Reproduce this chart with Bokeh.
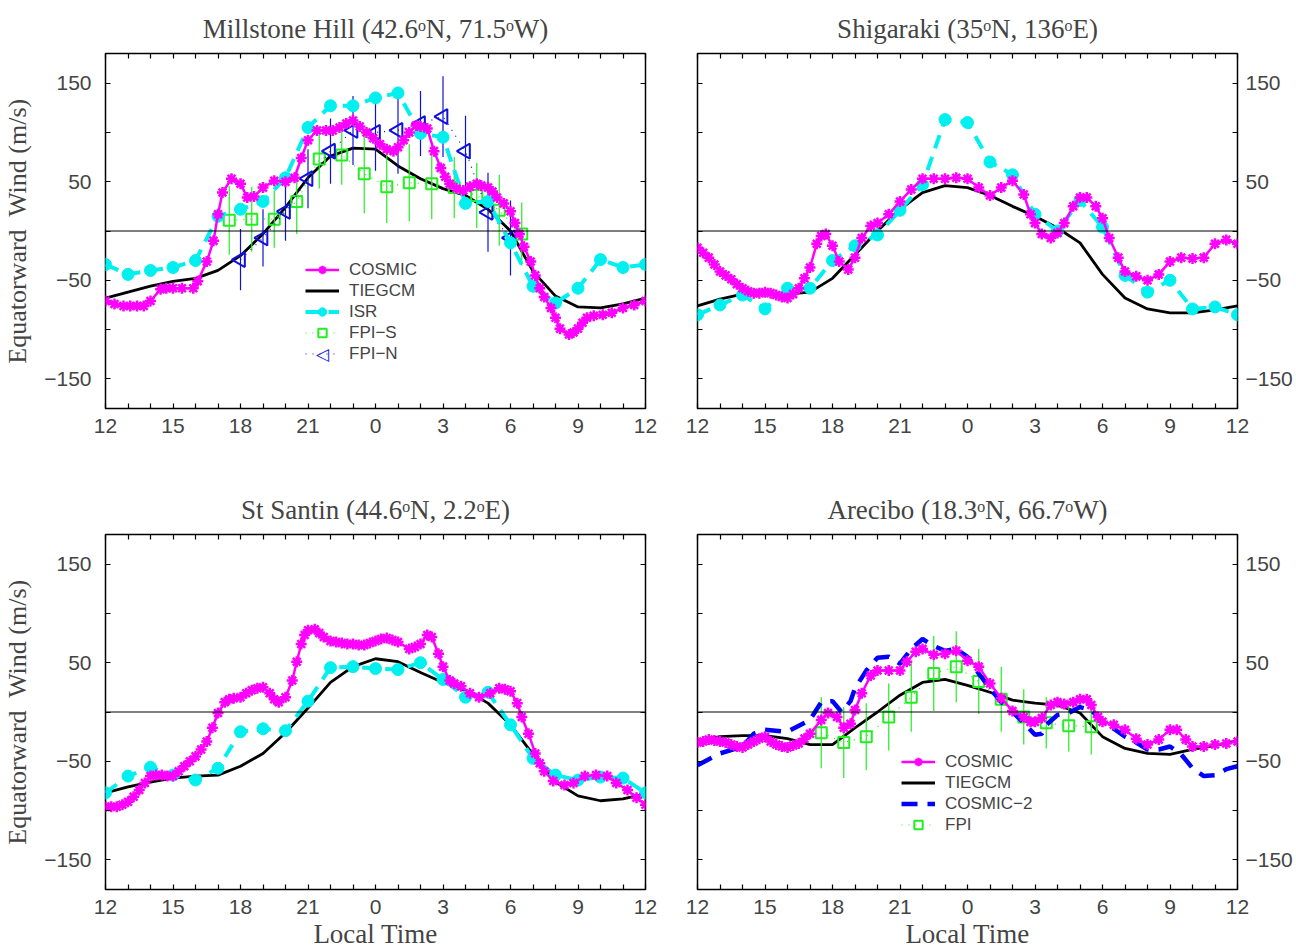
import math
from bokeh.plotting import figure
from bokeh.models import (Range1d, LinearAxis, FixedTicker, Span, Legend, LegendItem, Label)
from bokeh.layouts import column, row
from bokeh.embed import file_html
from bokeh.resources import INLINE

# ---------------- data ----------------
hours = list(range(12, 37))
x_tick_labels = {12: "12", 15: "15", 18: "18", 21: "21", 24: "0", 27: "3", 30: "6", 33: "9", 36: "12"}
y_tick_labels = {-150: "\u2212150", -100: "", -50: "\u221250", 0: "", 50: "50", 100: "", 150: "150"}

# Millstone Hill
mh_tiegcm = [-68, -62, -56, -51, -48, -40, -25, -3, 24, 54, 76, 84, 83, 66, 53, 43, 36, 22, 0, -41, -66, -77, -78, -74, -68]
mh_isr = [-34, -44, -40, -37, -30, 15, 22, 30, 54, 105, 127, 127, 135, 140, 99, 95, 28, 30, -12, -56, -73, -58, -29, -37, -34]
mh_cosmic_t = [12, 12.4, 12.8, 13.1, 13.4, 13.7, 14, 14.45, 14.7, 15.0, 15.4, 15.9, 16.1, 16.5, 16.8, 17.0, 17.2, 17.6,
               18.0, 18.3, 18.6, 19.0, 19.5, 20.0, 20.4, 20.7, 21.0, 21.4, 21.8, 22.1, 22.4, 22.7, 23.0, 23.3, 23.6,
               23.9, 24.2, 24.5, 24.8, 25.0, 25.25, 25.5, 25.8, 26.0, 26.3, 26.6, 26.9, 27.1, 27.3, 27.6, 27.9, 28.2,
               28.5, 28.7, 29.0, 29.2, 29.4, 29.7, 30.0, 30.2, 30.4, 30.6, 30.9, 31.1, 31.3, 31.5, 31.8, 32.0, 32.2,
               32.6, 32.8, 33.0, 33.2, 33.4, 33.7, 34.1, 34.5, 35.0, 35.5, 36]
mh_cosmic = [-71, -74, -76, -76, -76, -76, -71, -59, -58, -58, -58, -58, -51, -31, -10, 17, 39, 53,
             48, 34, 35, 44, 51, 50, 54, 74, 92, 102, 102, 102, 105, 109, 112, 106, 100,
             94, 88, 83, 81, 85, 92, 100, 107, 106, 104, 81, 64, 55, 48, 43, 41, 45,
             48, 46, 44, 40, 34, 28, 20, 8, -3, -16, -31, -45, -58, -67, -78, -88, -99,
             -105, -103, -99, -93, -88, -86, -85, -83, -78, -75, -71]
mh_fpis_t = [17.5, 18.5, 19.5, 20.5, 21.5, 22.5, 23.5, 24.5, 25.5, 26.5, 27.5, 28.5, 29.5, 30.5]
mh_fpis = [11, 12, 12, 30, 73, 77, 58, 45, 49, 48, 44, 36, 21, -3]
mh_fpis_err = [35, 33, 29, 33, 30, 30, 40, 37, 39, 36, 31, 33, 36, 32]
mh_fpin_t = [18, 19, 20, 21, 22, 23, 24, 25, 26, 27, 28, 29, 30]
mh_fpin = [-29, -7, 20, 53, 81, 102, 100, 102, 109, 116, 81, 19, -7]
mh_fpin_err = [31, 29, 30, 30, 33, 35, 39, 44, 33, 41, 36, 40, 38]

# Shigaraki
sg_isr = [-85, -75, -65, -79, -58, -58, -30, -15, -4, 21, 47, 113, 110, 70, 57, 17, 0, 31, 4, -45, -62, -50, -79, -77, -85]
sg_tiegcm = [-76, -69, -64, -63, -64, -62, -48, -24, 0, 22, 39, 46, 44, 36, 25, 15, 3, -12, -44, -68, -79, -83, -83, -80, -76]
sg_cosmic_t = [12, 12.25, 12.5, 12.75, 13, 13.25, 13.5, 13.75, 14, 14.25, 14.5, 14.75, 15, 15.25, 15.5, 15.75, 16,
               16.25, 16.5, 16.75, 17, 17.3, 17.5, 17.7, 18, 18.3, 18.7, 19, 19.3, 19.7, 20, 20.5, 21, 21.5, 22,
               22.5, 23, 23.5, 24, 24.5, 25, 25.5, 26, 26.5, 26.8, 27, 27.3, 27.7, 28, 28.3, 28.7, 29, 29.3,
               29.7, 30, 30.3, 30.7, 31, 31.5, 32, 32.5, 33, 33.5, 34, 34.5, 35, 35.5, 36]
sg_cosmic = [-17, -22, -27, -34, -41, -45, -49, -54, -58, -61, -63, -63, -62, -63, -65, -67, -68,
             -64, -58, -48, -37, -13, -5, -3, -15, -31, -39, -27, -7, 5, 8, 17, 30, 42, 53,
             53, 53, 54, 53, 44, 36, 44, 51, 37, 17, 8, -3, -7, -2, 8, 25, 34, 34,
             25, 13, -7, -27, -41, -46, -50, -44, -31, -27, -28, -27, -13, -9, -13]

# St Santin
ss_isr = [-82, -65, -56, -64, -69, -57, -20, -17, -19, 11, 45, 46, 44, 43, 50, 33, 15, 20, -13, -47, -64, -69, -66, -67, -82]
ss_tiegcm = [-82, -76, -71, -67, -65, -64, -55, -42, -21, 4, 30, 46, 54, 51, 40, 30, 22, 9, -13, -43, -71, -85, -90, -88, -83]
ss_cosmic_t = [12, 12.25, 12.5, 12.75, 13, 13.25, 13.5, 13.75, 14, 14.25, 14.5, 14.75, 15, 15.25, 15.5, 15.75, 16,
               16.25, 16.5, 16.75, 17, 17.3, 17.5, 17.7, 18, 18.25, 18.5, 18.75, 19, 19.3, 19.5, 19.7, 20, 20.3,
               20.5, 20.7, 20.85, 21, 21.3, 21.5, 21.7, 22, 22.25, 22.5, 22.75, 23, 23.25, 23.5, 23.75, 24,
               24.25, 24.5, 24.75, 25, 25.5, 25.75, 26, 26.3, 26.5, 26.8, 27, 27.3, 27.5, 27.8, 28.2, 28.6,
               29.1, 29.5, 29.75, 30, 30.3, 30.5, 30.8, 31.1, 31.3, 31.5, 31.9, 32.4, 32.8, 33.3, 33.8, 34.3,
               34.7, 35.2, 35.6, 36]
ss_cosmic = [-96, -96, -96, -94, -91, -86, -79, -72, -65, -64, -64, -65, -65, -60, -55, -50, -45,
             -38, -30, -16, -1, 10, 13, 14, 15, 19, 22, 24, 25, 19, 13, 10, 15, 32,
             51, 69, 78, 83, 84, 80, 76, 72, 71, 70, 69, 69, 68, 68, 70, 72,
             74, 75, 73, 71, 64, 66, 69, 78, 76, 59, 46, 32, 29, 26, 19, 15,
             19, 24, 23, 21, 9, -5, -22, -42, -52, -60, -70, -74, -72, -65, -64, -65,
             -72, -79, -87, -94]

# Arecibo
ar_tiegcm = [-29, -25, -24, -24, -27, -33, -33, -16, 0, 17, 30, 33, 27, 20, 12, 9, 7, -1, -25, -37, -42, -43, -38, -34, -29]
ar_cosmic2_t = [12, 13, 14, 14.5, 15, 16, 17, 17.5, 18, 18.4, 18.8, 19, 19.5, 20, 20.5, 21, 21.5, 22, 22.5, 23, 23.5,
                24, 24.5, 25, 25.5, 26, 26.5, 27, 27.3, 27.5, 28, 28.5, 29, 29.5, 30, 30.5, 31, 31.5, 32, 32.5,
                33, 33.5, 34, 34.5, 35, 35.5, 36]
ar_cosmic2 = [-54, -42, -35, -22, -18, -20, -8, 10, 11, 0, 11, 24, 42, 55, 56, 49, 64, 74, 67, 62, 64,
              56, 39, 24, 10, 0, -11, -23, -22, -13, -3, -1, 5, 2, -10, -17, -25, -31, -38, -38,
              -35, -43, -57, -65, -64, -58, -55]
ar_cosmic_t = [12, 12.25, 12.5, 12.75, 13, 13.25, 13.5, 13.75, 14, 14.25, 14.5, 14.75, 15, 15.25, 15.5, 15.75, 16,
               16.25, 16.5, 16.75, 17, 17.5, 17.8, 18.2, 18.5, 18.8, 19, 19.3, 19.7, 20, 20.5, 21, 21.3, 21.7,
               22, 22.5, 23, 23.5, 24, 24.5, 25, 25.5, 26, 26.5, 26.8, 27, 27.3, 27.7, 28, 28.3, 28.7, 29,
               29.3, 29.5, 29.8, 30, 30.5, 31, 31.5, 32, 32.5, 33, 33.3, 33.7, 34, 34.5, 35, 35.5, 36]
ar_cosmic = [-31, -30, -28, -29, -30, -31, -33, -35, -36, -33, -30, -27, -25, -30, -33, -35, -36,
             -34, -32, -27, -22, -8, -1, -5, -16, -12, 2, 19, 37, 42, 42, 42, 51, 61,
             64, 58, 59, 62, 52, 46, 29, 14, 1, -5, -10, -10, -6, 7, 10, 8, 10, 13,
             13, 7, -5, -10, -13, -18, -27, -33, -28, -18, -18, -28, -35, -35, -33, -32, -30]
ar_fpi_t = [17.5, 18.5, 19.5, 20.5, 21.5, 22.5, 23.5, 24.5, 25.5, 26.5, 27.5, 28.5, 29.5]
ar_fpi = [-21, -31, -25, -5, 15, 39, 46, 31, 13, -5, -11, -14, -15]
ar_fpi_err = [36, 36, 34, 34, 35, 38, 36, 33, 33, 28, 26, 26, 28]

titles = ["Millstone Hill (42.6\u1d52N, 71.5\u1d52W)", "Shigaraki (35\u1d52N, 136\u1d52E)",
          "St Santin (44.6\u1d52N, 2.2\u1d52E)", "Arecibo (18.3\u1d52N, 66.7\u1d52W)"]

# ---------------- styles ----------------
MAG = "#FF00FF"
CYAN = "#00F0F0"
GREEN = "#22EE22"
BLUE = "#0000FF"
FPIN_BLUE = "#1010DD"
SERIF = "Liberation Serif"
SANS = "Liberation Sans"


def make_fig(title, left_side, top_row):
    p = figure(frame_width=540, frame_height=355, x_range=Range1d(12, 36), y_range=Range1d(-180, 180),
               x_axis_type=None, y_axis_type=None, output_backend="svg", toolbar_location=None,
               min_border_left=97 if left_side else 26, min_border_right=26 if left_side else 50,
               min_border_top=53 if top_row else 76, min_border_bottom=50 if top_row else 52)
    p.title.text = title
    p.title.align = "center"
    p.title.text_font = SERIF
    p.title.text_font_size = "27px"
    p.title.text_font_style = "normal"
    p.title.standoff = 20
    p.outline_line_color = "black"
    p.outline_line_width = 1.5
    p.outline_line_alpha = 1.0
    p.background_fill_color = "white"

    xt = FixedTicker(ticks=hours)
    yt = FixedTicker(ticks=[-150, -100, -50, 0, 50, 100, 150])
    xlab = {h: x_tick_labels.get(h, "") for h in hours}

    def style(ax, labels, show):
        ax.major_label_overrides = labels
        ax.major_tick_in = 5
        ax.major_tick_out = 0
        ax.major_tick_line_width = 1.2
        ax.minor_tick_line_color = None
        ax.axis_line_color = None
        ax.major_label_text_font = SANS
        ax.major_label_text_font_size = "21px" if show else "0px"
        ax.major_label_standoff = 10 if show else 0

    xb = LinearAxis(ticker=xt)
    style(xb, xlab, True)
    if not top_row:
        xb.axis_label = "Local Time"
        xb.axis_label_text_font = SERIF
        xb.axis_label_text_font_size = "27px"
        xb.axis_label_text_font_style = "normal"
        xb.axis_label_standoff = 2
    p.add_layout(xb, "below")
    xa = LinearAxis(ticker=xt)
    style(xa, {h: "" for h in hours}, False)
    p.add_layout(xa, "above")

    yl = LinearAxis(ticker=yt)
    yr = LinearAxis(ticker=yt)
    if left_side:
        style(yl, y_tick_labels, True)
        yl.major_label_standoff = 14
        yl.axis_label = "Equatorward\u00a0 Wind (m/s)"
        yl.axis_label_text_font = SERIF
        yl.axis_label_text_font_size = "26px"
        yl.axis_label_text_font_style = "normal"
        yl.axis_label_standoff = 9
        style(yr, {k: "" for k in y_tick_labels}, False)
    else:
        style(yl, {k: "" for k in y_tick_labels}, False)
        style(yr, y_tick_labels, True)
        yr.major_label_standoff = 8
    p.add_layout(yl, "left")
    p.add_layout(yr, "right")

    p.add_layout(Span(location=0, dimension="width", line_color="black", line_width=1))
    return p


def cosmic(p, t, v):
    l = p.line(t, v, line_color=MAG, line_width=2.5)
    s = p.scatter(t, v, marker="asterisk", size=11, line_color=MAG, line_width=2.5)
    return [l, s]


def tiegcm(p, v):
    return [p.line(hours, v, line_color="black", line_width=2.8)]


def isr(p, v):
    l = p.line(hours, v, line_color=CYAN, line_width=4, line_dash="14 9")
    s = p.scatter(hours, v, marker="circle", size=12, fill_color=CYAN, line_color=CYAN)
    return [l, s]


def fpi(p, t, v, e, color, marker, size, angle=0.0):
    lo = [a - b for a, b in zip(v, e)]
    hi = [a + b for a, b in zip(v, e)]
    p.segment(t, lo, t, hi, line_color=color, line_width=1.2)
    l = p.line(t, v, line_color=color, line_width=1.2, line_dash="1 6")
    s = p.scatter(t, v, marker=marker, size=size, angle=angle, fill_color=None,
                  line_color=color, line_width=2)
    return [l, s]


LEG_ROW = 21


def legend(p, items, loc):
    lg = Legend(items=[LegendItem(label=k, renderers=r) for k, r in items], location=loc,
                border_line_color=None, background_fill_alpha=0, padding=0, spacing=0, margin=0,
                label_standoff=10, glyph_width=34, glyph_height=LEG_ROW, label_height=LEG_ROW,
                label_text_font=SANS, label_text_font_size="17px")
    p.add_layout(lg)


# Millstone Hill
p1 = make_fig(titles[0], True, True)
r_t = tiegcm(p1, mh_tiegcm)
r_s = fpi(p1, mh_fpis_t, mh_fpis, mh_fpis_err, GREEN, "square", 11)
r_n = fpi(p1, mh_fpin_t, mh_fpin, mh_fpin_err, FPIN_BLUE, "triangle", 15, math.pi / 2)
r_i = isr(p1, mh_isr)
r_c = cosmic(p1, mh_cosmic_t, mh_cosmic)
leg_loc = (200, 44)
legend(p1, [("COSMIC", r_c), ("TIEGCM", r_t), ("ISR", r_i), ("FPI\u2212S", r_s), ("FPI\u2212N", r_n[:1])], leg_loc)
# left-pointing triangle symbol for the FPI-N legend entry (Bokeh legends ignore marker rotation)
p1.add_layout(Label(x=leg_loc[0] + 17, y=leg_loc[1] + LEG_ROW / 2, x_units="screen", y_units="screen",
                    text="\u25c1", text_align="center", text_baseline="middle", text_color=FPIN_BLUE,
                    text_font="DejaVu Sans", text_font_size="17px", text_font_style="bold"))

# Shigaraki
p2 = make_fig(titles[1], False, True)
tiegcm(p2, sg_tiegcm)
isr(p2, sg_isr)
cosmic(p2, sg_cosmic_t, sg_cosmic)

# St Santin
p3 = make_fig(titles[2], True, False)
tiegcm(p3, ss_tiegcm)
isr(p3, ss_isr)
cosmic(p3, ss_cosmic_t, ss_cosmic)

# Arecibo
p4 = make_fig(titles[3], False, False)
a_t = tiegcm(p4, ar_tiegcm)
a_f = fpi(p4, ar_fpi_t, ar_fpi, ar_fpi_err, GREEN, "square", 11)
a_c2 = [p4.line(ar_cosmic2_t, ar_cosmic2, line_color=BLUE, line_width=4.5, line_dash="16 10")]
a_c = cosmic(p4, ar_cosmic_t, ar_cosmic)
legend(p4, [("COSMIC", a_c), ("TIEGCM", a_t), ("COSMIC\u22122", a_c2), ("FPI", a_f)], (204, 54))

layout = column(row(p1, p2), row(p3, p4))
open("out.html", "w").write(file_html(layout, INLINE))
